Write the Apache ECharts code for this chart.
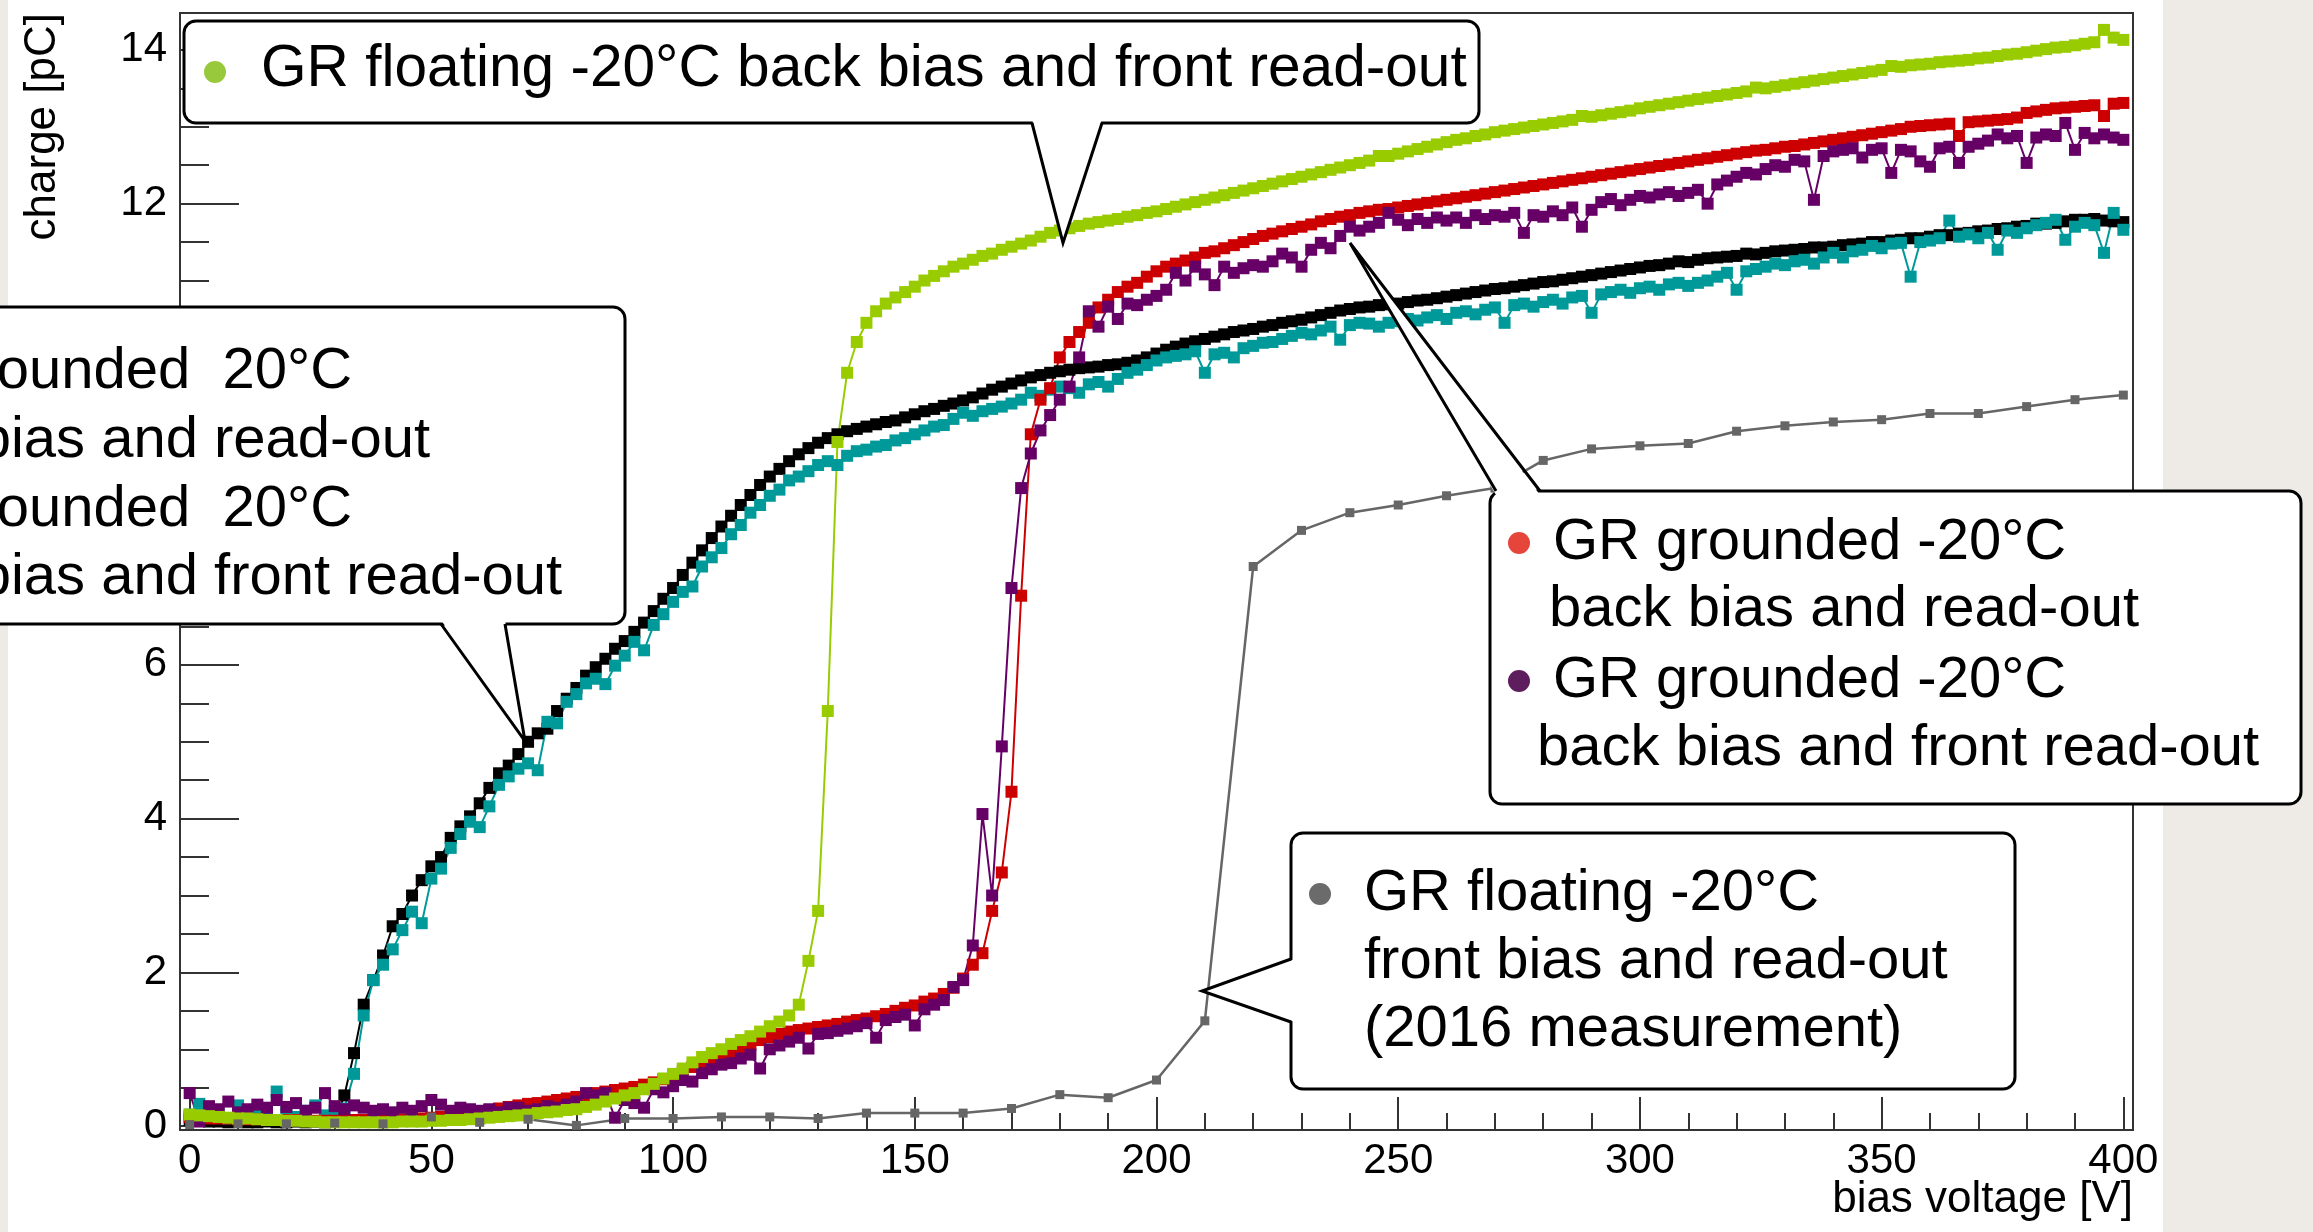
<!DOCTYPE html>
<html>
<head>
<meta charset="utf-8">
<script src="https://cdn.jsdelivr.net/npm/echarts@6/dist/echarts.min.js"></script>
<style>
html, body { margin:0; padding:0; overflow:hidden; background:#eeebe6; }
#paper { position:absolute; left:8px; top:0; width:2155px; height:1232px; background:#fff; }
#chart { position:absolute; left:0; top:0; width:2313px; height:1232px; }
</style>
</head>
<body>
<div id="paper"></div>
<div id="chart"></div>
<script>
// bias voltage [V], one reading every 2 V
const volts = [
  0,2,4,6,8,10,12,14,16,18,
  20,22,24,26,28,30,32,34,36,38,
  40,42,44,46,48,50,52,54,56,58,
  60,62,64,66,68,70,72,74,76,78,
  80,82,84,86,88,90,92,94,96,98,
  100,102,104,106,108,110,112,114,116,118,
  120,122,124,126,128,130,132,134,136,138,
  140,142,144,146,148,150,152,154,156,158,
  160,162,164,166,168,170,172,174,176,178,
  180,182,184,186,188,190,192,194,196,198,
  200,202,204,206,208,210,212,214,216,218,
  220,222,224,226,228,230,232,234,236,238,
  240,242,244,246,248,250,252,254,256,258,
  260,262,264,266,268,270,272,274,276,278,
  280,282,284,286,288,290,292,294,296,298,
  300,302,304,306,308,310,312,314,316,318,
  320,322,324,326,328,330,332,334,336,338,
  340,342,344,346,348,350,352,354,356,358,
  360,362,364,366,368,370,372,374,376,378,
  380,382,384,386,388,390,392,394,396,398,
  400
];

// GR grounded 20°C, back bias and read-out
const blackCharge = [
  0.08,0.07,0.06,0.06,0.05,0.06,0.05,0.05,0.06,0.05,
  0.05,0.06,0.05,0.06,0.05,0.06,0.40,0.95,1.58,1.90,
  2.22,2.60,2.76,3.00,3.20,3.38,3.50,3.75,3.90,4.03,
  4.20,4.40,4.59,4.69,4.84,5.00,5.11,5.17,5.40,5.56,
  5.70,5.86,5.97,6.08,6.21,6.31,6.43,6.55,6.70,6.86,
  7.00,7.17,7.33,7.49,7.65,7.80,7.94,8.08,8.21,8.34,
  8.45,8.55,8.65,8.74,8.82,8.89,8.95,9.00,9.04,9.07,
  9.10,9.13,9.16,9.18,9.22,9.26,9.30,9.33,9.37,9.40,
  9.44,9.48,9.53,9.58,9.62,9.66,9.70,9.74,9.77,9.80,
  9.82,9.84,9.86,9.87,9.88,9.90,9.91,9.93,9.96,10.00,
  10.05,10.10,10.14,10.18,10.21,10.24,10.27,10.30,10.33,10.35,
  10.37,10.40,10.42,10.45,10.47,10.49,10.52,10.55,10.58,10.61,
  10.63,10.65,10.66,10.68,10.69,10.70,10.72,10.74,10.75,10.77,
  10.79,10.81,10.83,10.85,10.87,10.89,10.90,10.92,10.94,10.96,
  10.98,10.99,11.01,11.03,11.05,11.07,11.09,11.11,11.13,11.15,
  11.17,11.19,11.20,11.22,11.25,11.24,11.27,11.29,11.30,11.31,
  11.32,11.35,11.34,11.36,11.38,11.39,11.40,11.41,11.43,11.43,
  11.44,11.46,11.47,11.48,11.50,11.50,11.52,11.53,11.55,11.55,
  11.57,11.59,11.59,11.61,11.62,11.64,11.65,11.67,11.68,11.70,
  11.71,11.74,11.74,11.75,11.77,11.79,11.79,11.80,11.78,11.77,
  11.76
];

// GR grounded 20°C, back bias and front read-out
const cyanCharge = [
  0.15,0.29,0.12,0.20,0.10,0.27,0.14,0.22,0.12,0.45,
  0.18,0.12,0.20,0.27,0.14,0.20,0.23,0.68,1.44,1.90,
  2.10,2.30,2.55,2.79,2.64,3.22,3.35,3.62,3.80,3.96,
  3.89,4.16,4.44,4.55,4.65,4.72,4.63,5.26,5.24,5.52,
  5.62,5.76,5.82,5.75,5.99,6.12,6.30,6.19,6.52,6.66,
  6.82,6.95,7.02,7.28,7.40,7.52,7.70,7.82,7.98,8.08,
  8.20,8.28,8.40,8.45,8.52,8.60,8.65,8.60,8.72,8.78,
  8.80,8.84,8.86,8.92,8.95,9.00,9.05,9.10,9.12,9.20,
  9.28,9.24,9.30,9.33,9.36,9.40,9.45,9.54,9.50,9.58,
  9.62,9.60,9.54,9.65,9.68,9.62,9.72,9.80,9.84,9.90,
  9.96,10.00,10.02,10.04,10.08,9.80,10.04,10.06,10.00,10.12,
  10.15,10.19,10.20,10.24,10.28,10.32,10.30,10.35,10.40,10.23,
  10.42,10.45,10.44,10.40,10.45,10.47,10.50,10.48,10.52,10.55,
  10.50,10.58,10.60,10.56,10.62,10.65,10.45,10.68,10.70,10.66,
  10.72,10.75,10.70,10.78,10.80,10.58,10.82,10.85,10.88,10.84,
  10.90,10.92,10.88,10.95,10.97,10.93,10.97,11.00,11.05,11.10,
  10.88,11.12,11.15,11.18,11.22,11.20,11.25,11.27,11.22,11.30,
  11.36,11.30,11.38,11.40,11.45,11.42,11.48,11.49,11.05,11.50,
  11.52,11.55,11.78,11.57,11.60,11.55,11.62,11.40,11.65,11.62,
  11.68,11.72,11.75,11.79,11.53,11.70,11.75,11.72,11.36,11.88,
  11.66
];

// GR floating -20°C, back bias and front read-out
const greenCharge = [
  0.15,0.14,0.13,0.12,0.11,0.10,0.10,0.09,0.08,0.08,
  0.07,0.07,0.06,0.06,0.05,0.05,0.05,0.05,0.05,0.05,
  0.05,0.05,0.06,0.06,0.06,0.07,0.07,0.08,0.08,0.09,
  0.10,0.11,0.12,0.13,0.14,0.15,0.17,0.18,0.19,0.21,
  0.22,0.25,0.28,0.32,0.36,0.40,0.43,0.48,0.55,0.62,
  0.68,0.75,0.83,0.90,0.95,1.00,1.07,1.12,1.17,1.23,
  1.30,1.36,1.44,1.58,2.15,2.80,5.40,8.90,9.80,10.20,
  10.45,10.60,10.70,10.78,10.85,10.92,11.00,11.06,11.12,11.18,
  11.22,11.27,11.32,11.35,11.40,11.44,11.48,11.52,11.57,11.62,
  11.65,11.68,11.71,11.74,11.76,11.78,11.80,11.83,11.85,11.88,
  11.90,11.93,11.96,11.99,12.02,12.05,12.08,12.11,12.14,12.17,
  12.20,12.23,12.26,12.29,12.32,12.35,12.38,12.41,12.44,12.47,
  12.50,12.53,12.56,12.62,12.62,12.65,12.68,12.71,12.74,12.77,
  12.80,12.83,12.85,12.88,12.90,12.93,12.95,12.97,12.99,13.01,
  13.03,13.05,13.07,13.09,13.14,13.13,13.15,13.17,13.19,13.21,
  13.24,13.26,13.28,13.30,13.32,13.34,13.36,13.38,13.40,13.42,
  13.44,13.46,13.51,13.50,13.52,13.54,13.56,13.58,13.60,13.62,
  13.64,13.66,13.68,13.70,13.72,13.74,13.79,13.78,13.80,13.81,
  13.82,13.84,13.85,13.86,13.87,13.89,13.90,13.92,13.94,13.95,
  13.97,13.99,14.01,14.03,14.04,14.06,14.08,14.10,14.26,14.16,
  14.13
];

// GR grounded -20°C, back bias and read-out
const redCharge = [
  0.12,0.11,0.10,0.10,0.10,0.09,0.09,0.09,0.08,0.08,
  0.08,0.08,0.08,0.07,0.07,0.07,0.07,0.08,0.08,0.08,
  0.08,0.09,0.09,0.10,0.10,0.11,0.12,0.13,0.15,0.17,
  0.19,0.21,0.23,0.25,0.27,0.29,0.30,0.32,0.34,0.36,
  0.38,0.40,0.43,0.45,0.47,0.49,0.51,0.54,0.57,0.61,
  0.66,0.71,0.77,0.82,0.86,0.90,0.94,1.00,1.06,1.12,
  1.16,1.20,1.23,1.25,1.27,1.29,1.31,1.33,1.36,1.38,
  1.40,1.43,1.46,1.50,1.54,1.57,1.62,1.66,1.72,1.80,
  1.92,2.10,2.25,2.80,3.30,4.35,6.90,9.00,9.45,9.60,
  10.00,10.20,10.33,10.45,10.65,10.75,10.85,10.92,10.97,11.05,
  11.12,11.18,11.22,11.26,11.30,11.36,11.38,11.42,11.46,11.50,
  11.54,11.58,11.61,11.64,11.67,11.70,11.73,11.77,11.80,11.83,
  11.85,11.88,11.90,11.92,11.93,11.95,11.97,11.99,12.01,12.03,
  12.05,12.07,12.09,12.11,12.13,12.15,12.17,12.19,12.21,12.23,
  12.25,12.27,12.29,12.31,12.33,12.35,12.37,12.39,12.41,12.43,
  12.45,12.47,12.49,12.51,12.53,12.55,12.57,12.59,12.61,12.63,
  12.65,12.67,12.69,12.70,12.72,12.74,12.75,12.77,12.79,12.81,
  12.83,12.85,12.87,12.89,12.91,12.93,12.95,12.97,13.00,13.01,
  13.02,13.03,13.04,12.88,13.06,13.07,13.08,13.09,13.10,13.12,
  13.18,13.20,13.22,13.24,13.25,13.26,13.27,13.28,13.14,13.30,
  13.31
];

// GR grounded -20°C, back bias and front read-out
const purpleCharge = [
  0.43,0.06,0.26,0.22,0.32,0.18,0.22,0.28,0.24,0.34,
  0.25,0.30,0.20,0.24,0.43,0.26,0.22,0.27,0.24,0.20,
  0.22,0.18,0.24,0.20,0.26,0.34,0.28,0.20,0.24,0.22,
  0.20,0.22,0.18,0.24,0.24,0.20,0.22,0.26,0.24,0.28,
  0.32,0.43,0.40,0.43,0.11,0.34,0.30,0.24,0.48,0.44,
  0.52,0.60,0.58,0.69,0.74,0.80,0.82,0.88,0.93,0.75,
  1.00,1.05,1.10,1.15,1.01,1.20,1.21,1.24,1.27,1.30,
  1.34,1.15,1.38,1.42,1.45,1.31,1.52,1.58,1.64,1.81,
  1.90,2.35,4.06,3.00,4.94,7.00,8.30,8.75,9.05,9.25,
  9.45,9.62,10.00,10.60,10.40,10.66,10.50,10.70,10.68,10.75,
  10.80,10.88,11.10,11.00,11.18,11.08,10.94,11.18,11.10,11.16,
  11.20,11.18,11.25,11.35,11.30,11.18,11.40,11.49,11.42,11.58,
  11.70,11.65,11.70,11.75,11.88,11.79,11.72,11.80,11.75,11.82,
  11.78,11.82,11.75,11.85,11.80,11.85,11.83,11.88,11.62,11.85,
  11.83,11.90,11.85,11.95,11.70,11.92,12.02,12.06,11.98,12.05,
  12.10,12.08,12.12,12.15,12.10,12.14,12.18,12.00,12.25,12.30,
  12.35,12.40,12.38,12.45,12.50,12.48,12.57,12.55,12.05,12.62,
  12.68,12.70,12.72,12.60,12.70,12.72,12.40,12.70,12.68,12.55,
  12.48,12.72,12.74,12.53,12.74,12.78,12.82,12.90,12.85,12.88,
  12.53,12.86,12.90,12.88,13.05,12.70,12.92,12.85,12.90,12.86,
  12.83
];

// GR floating -20°C, front bias and read-out (2016 measurement), every 10 V
const grayVolts = [
  0,10,20,30,40,50,60,70,80,90,
  100,110,120,130,140,150,160,170,180,190,
  200,210,220,230,240,250,260,270,280,290,
  300,310,320,330,340,350,360,370,380,390,
  400
];
const grayCharge = [
  0.02,0.03,0.03,0.04,0.03,0.12,0.05,0.09,0.01,0.10,
  0.10,0.12,0.12,0.10,0.17,0.17,0.17,0.23,0.41,0.37,
  0.60,1.37,7.28,7.75,7.98,8.08,8.20,8.30,8.66,8.81,
  8.85,8.88,9.04,9.11,9.16,9.19,9.27,9.27,9.36,9.45,
  9.51
];

const xMajorTicks = [0,50,100,150,200,250,300,350,400];
const xMinorTicks = [0,10,20,30,40,50,60,70,80,90,100,110,120,130,140,150,160,170,180,190,200,
  210,220,230,240,250,260,270,280,290,300,310,320,330,340,350,360,370,380,390,400];
const yMajorTicks = [0,2,4,6,8,10,12,14];
const yMinorTicks = [0,0.5,1,1.5,2,2.5,3,3.5,4,4.5,5,5.5,6,6.5,7,7.5,8,8.5,9,9.5,10,10.5,11,11.5,12,12.5,13,13.5,14];

const FONT = '"Liberation Sans", Arial, Helvetica, sans-serif';
const AXIS = '#333';

const pairs = (xs, ys) => xs.map((x, i) => [x, ys[i]]);

function curve(name, color, xs, ys, size, width) {
  return {
    name: name, type: 'line', data: pairs(xs, ys),
    symbol: 'rect', symbolSize: size, showSymbol: true,
    lineStyle: {color: color, width: width}, itemStyle: {color: color},
    emphasis: {disabled: true}, silent: true
  };
}

// callout box with a wedge pointer
function callout(box, base, tip, inset) {
  return [
    {type:'rect', z:100, shape:{x:box[0], y:box[1], width:box[2], height:box[3], r:12},
     style:{fill:'#fff', stroke:'#000', lineWidth:3}},
    {type:'polygon', z:101,
     shape:{points:[[base[0][0]+inset[0], base[0][1]+inset[1]], [base[1][0]+inset[0], base[1][1]+inset[1]], tip]},
     style:{fill:'#fff'}},
    {type:'polyline', z:102, shape:{points:[base[0], tip, base[1]]},
     style:{stroke:'#000', lineWidth:3, fill:null}}
  ];
}
function label(x, y, text, size) {
  return {type:'text', z:103, x:x, y:y,
    style:{text:text, fill:'#000', fontSize:size || 58, fontFamily:FONT,
           textAlign:'left', textVerticalAlign:'middle', verticalAlign:'middle'}};
}
function dot(x, y, color) {
  return {type:'circle', z:103, shape:{cx:x, cy:y, r:11}, style:{fill:color}};
}

const graphics = [].concat(
  callout([184,21,1295,102], [[1032,123],[1102,123]], [1063,243], [0,-4]),
  [dot(215,72,'#98c93c'), label(261,70,'GR floating -20°C back bias and front read-out', 58.6)],

  callout([-30,307,655,317], [[441,624],[505,624]], [525,741], [0,-4]),
  [dot(-205,372,'#000'), label(-158,372,'GR grounded  20°C'),
   label(-160,441,'back bias and read-out'),
   dot(-205,510,'#009999'), label(-158,510,'GR grounded  20°C'),
   label(-160,578,'back bias and front read-out')],

  callout([1490,491,811,313], [[1540,491],[1496,491]], [1350,243], [0,4]),
  [dot(1519,543,'#e6453c'), label(1553,543,'GR grounded -20°C'),
   label(1549,610,'back bias and read-out'),
   dot(1519,681,'#5e1e5e'), label(1553,681,'GR grounded -20°C'),
   label(1537,749,'back bias and front read-out')],

  callout([1291,833,724,256], [[1291,959],[1291,1022]], [1202,991], [4,0]),
  [dot(1320,894,'#6b6b6b'), label(1364,894,'GR floating -20°C'),
   label(1364,962,'front bias and read-out'),
   label(1364,1030,'(2016 measurement)')],

  [{type:'text', z:50, x:2133, y:1200,
    style:{text:'bias voltage [V]', fill:'#000', fontSize:44, fontFamily:FONT,
           textAlign:'right', textVerticalAlign:'middle', verticalAlign:'middle'}},
   {type:'text', z:50, x:43, y:13, rotation:Math.PI/2,
    style:{text:'charge [pC]', fill:'#000', fontSize:44, fontFamily:FONT,
           textAlign:'right', textVerticalAlign:'middle', verticalAlign:'middle'}}]
);

const chart = echarts.init(document.getElementById('chart'), null, {renderer:'canvas'});
chart.setOption({
  animation: false,
  grid: {left:180, right:180, top:13, bottom:102, show:true, borderColor:AXIS, borderWidth:2,
         backgroundColor:'transparent'},
  xAxis: [
    {type:'value', min:-2, max:402, position:'bottom',
     axisLine:{onZero:false, lineStyle:{color:AXIS, width:2}},
     axisTick:{inside:true, length:33, customValues:xMajorTicks, lineStyle:{color:AXIS, width:2}},
     axisLabel:{customValues:xMajorTicks, fontSize:42, color:'#000', fontFamily:FONT, margin:10},
     splitLine:{show:false}},
    {type:'value', min:-2, max:402, position:'bottom',
     axisLine:{show:false, onZero:false},
     axisTick:{inside:true, length:17, customValues:xMinorTicks, lineStyle:{color:AXIS, width:2}},
     axisLabel:{show:false}, splitLine:{show:false}}
  ],
  yAxis: [
    {type:'value', min:-0.05, max:14.48, position:'left',
     axisLine:{onZero:false, lineStyle:{color:AXIS, width:2}},
     axisTick:{inside:true, length:59, customValues:yMajorTicks, lineStyle:{color:AXIS, width:2}},
     axisLabel:{customValues:yMajorTicks, fontSize:42, color:'#000', fontFamily:FONT, margin:13},
     splitLine:{show:false}},
    {type:'value', min:-0.05, max:14.48, position:'left',
     axisLine:{show:false, onZero:false},
     axisTick:{inside:true, length:29, customValues:yMinorTicks, lineStyle:{color:AXIS, width:2}},
     axisLabel:{show:false}, splitLine:{show:false}}
  ],
  series: [
    curve('GR grounded 20°C back bias and read-out', '#000000', volts, blackCharge, 12, 2),
    curve('GR grounded 20°C back bias and front read-out', '#009999', volts, cyanCharge, 12, 2),
    curve('GR grounded -20°C back bias and read-out', '#cc0000', volts, redCharge, 12, 2),
    curve('GR grounded -20°C back bias and front read-out', '#660066', volts, purpleCharge, 12, 2),
    curve('GR floating -20°C back bias and front read-out', '#99cc00', volts, greenCharge, 12, 2),
    curve('GR floating -20°C front bias and read-out (2016)', '#666666', grayVolts, grayCharge, 9, 2.5)
  ],
  graphic: graphics
});
</script>
</body>
</html>
